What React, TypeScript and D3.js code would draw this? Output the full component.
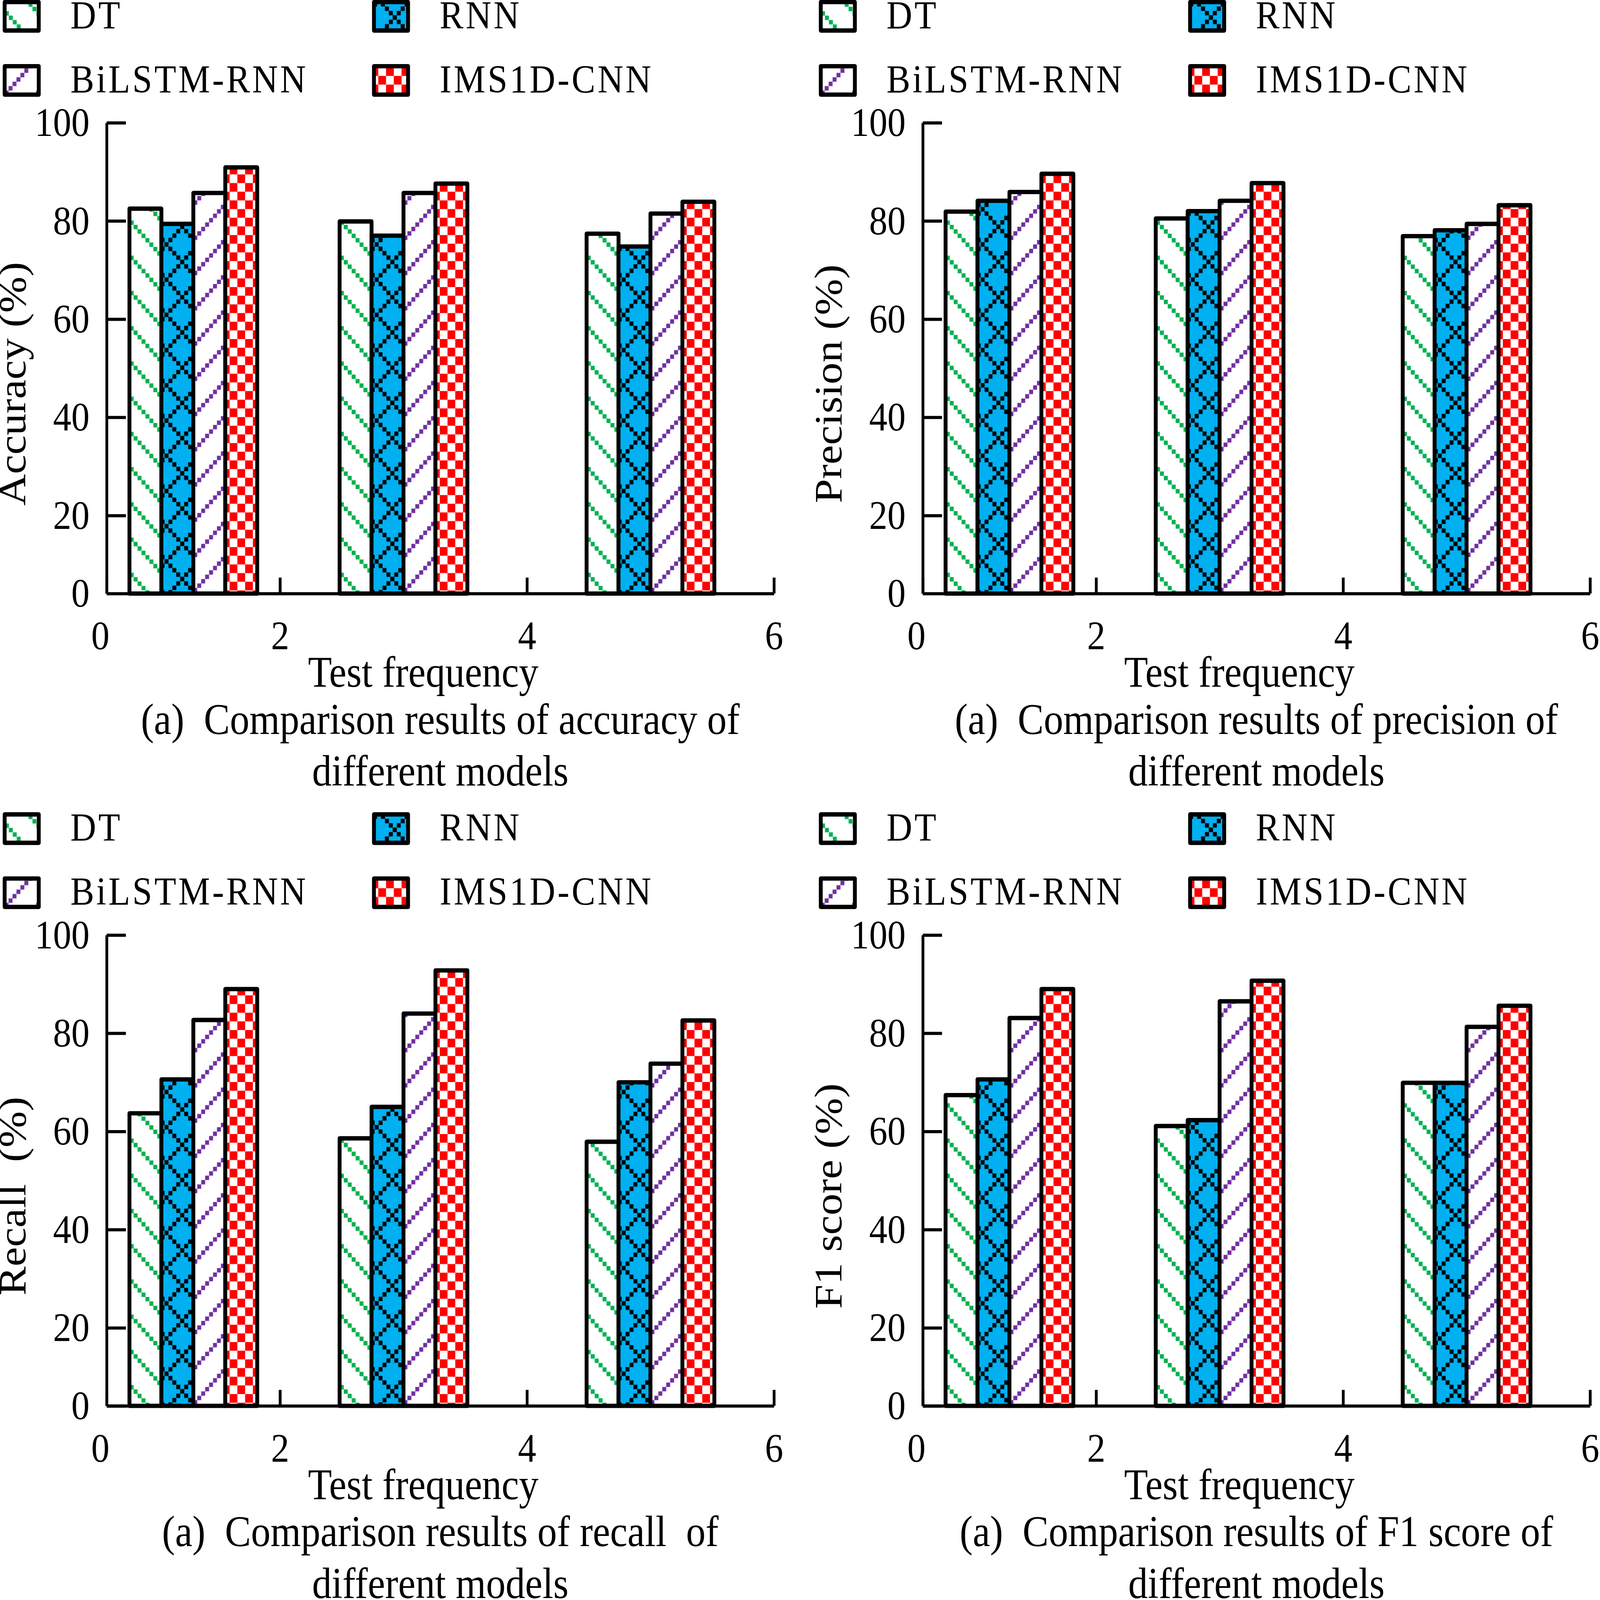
import { useEffect, useRef } from "react";
import * as d3 from "d3";

const WIDTH = 5160;
const HEIGHT = 4615;
const FONT = '"Liberation Serif", "Times New Roman", serif';

// categories / ticks
const testFrequency = [1, 3, 5];
const models = ["DT", "RNN", "BiLSTM-RNN", "IMS1D-CNN"];
const xTicks = [0, 2, 4, 6];
const yTicks = [0, 20, 40, 60, 80, 100];

// accuracy (%) per model, one value per test frequency
const accuracyDT = [82.5, 79.9, 77.4];
const accuracyRNN = [79.4, 77.0, 74.8];
const accuracyBiLSTM = [85.7, 85.7, 81.5];
const accuracyIMS = [90.9, 87.6, 83.9];

// precision (%)
const precisionDT = [81.9, 80.5, 76.9];
const precisionRNN = [84.1, 82.0, 78.1];
const precisionBiLSTM = [85.9, 84.1, 79.4];
const precisionIMS = [89.6, 87.7, 83.2];

// recall (%)
const recallDT = [63.7, 58.6, 57.9];
const recallRNN = [70.6, 65.0, 70.0];
const recallBiLSTM = [82.7, 84.0, 73.8];
const recallIMS = [89.0, 92.8, 82.6];

// F1 score (%)
const f1DT = [67.4, 61.1, 69.9];
const f1RNN = [70.6, 62.3, 69.9];
const f1BiLSTM = [83.1, 86.5, 81.3];
const f1IMS = [89.0, 90.7, 85.6];

const PATTERNS = ["pat-dt", "pat-rnn", "pat-bi", "pat-ims"];

// panel geometry (the original axes squeeze the first segment, so the scales are piecewise)
const PANEL_DX = 2632;
const PANEL_DY = 2343;
const BAR_W = 103;
const STROKE = 12.5;

const xScale = d3.scaleLinear().domain([0, 2, 6]).range([344, 903, 2496]);
const yScale = d3.scaleLinear().domain([0, 20, 100]).range([1712, 1487, 354]);

type PanelProps = {
    dx: number;
    dy: number;
    values: number[][];
    yTitle: string;
    caption: string;
};

const Legend = () => (
    <g>
        {models.map((m, i) => {
            const col = i % 2;
            const row = Math.floor(i / 2);
            const bx = col ? 1206 : 15;
            const by = row ? 191 : 6;
            return (
                <g key={m}>
                    <g transform={`translate(${bx},${by})`}>
                        <rect
                            width={110}
                            height={82}
                            fill={`url(#${PATTERNS[i]})`}
                            stroke="#000"
                            strokeWidth={STROKE}
                            strokeLinejoin="round"
                        />
                    </g>
                    <text
                        x={bx + 212}
                        y={by + 76}
                        fontSize={115}
                        letterSpacing={7}
                        fontFamily={FONT}
                    >
                        {m}
                    </text>
                </g>
            );
        })}
    </g>
);

const Panel = ({ dx, dy, values, yTitle, caption }: PanelProps) => {
    const xAxisRef = useRef<SVGGElement>(null);
    const yAxisRef = useRef<SVGGElement>(null);

    useEffect(() => {
        const gx = d3.select(xAxisRef.current);
        gx.selectAll("*").remove();
        gx.call(
            d3
                .axisBottom(xScale)
                .tickValues(xTicks)
                .tickSize(-46)
                .tickSizeOuter(0)
                .tickPadding(77)
                .tickFormat(d3.format("d"))
        );
        const gy = d3.select(yAxisRef.current);
        gy.selectAll("*").remove();
        gy.call(
            d3
                .axisLeft(yScale)
                .tickValues(yTicks)
                .tickSize(-62)
                .tickSizeOuter(0)
                .tickPadding(55)
                .tickFormat(d3.format("d"))
        );
        [gx, gy].forEach((g) => {
            g.attr("font-size", null).attr("font-family", null);
            g.select(".domain").attr("stroke", "#000").attr("stroke-width", 9);
            g.selectAll(".tick line").attr("stroke", "#000").attr("stroke-width", 9);
            g.selectAll("text")
                .attr("fill", "#000")
                .attr("font-size", 118)
                .attr("font-family", FONT);
        });
        // the "0" label of the x axis sits a little left of the origin
        gx.selectAll<SVGTextElement, number>(".tick text")
            .filter((d) => d === 0)
            .attr("dx", -21);
    }, []);

    const xMid = (xScale.range()[0] + xScale.range()[2]) / 2;

    return (
        <g transform={`translate(${dx},${dy})`}>
            <Legend />
            {values.map((series, i) =>
                series.map((v, g) => {
                    const x = xScale(testFrequency[g]) + (i - 2) * BAR_W;
                    return (
                        <g key={`${i}-${g}`} transform={`translate(${x},0)`}>
                            <rect
                                x={0}
                                y={yScale(v)}
                                width={BAR_W}
                                height={yScale(0) - yScale(v)}
                                fill={`url(#${PATTERNS[i]})`}
                                stroke="#000"
                                strokeWidth={STROKE}
                                strokeLinejoin="round"
                            />
                        </g>
                    );
                })
            )}
            <g ref={xAxisRef} transform={`translate(0,${yScale(0)})`} />
            <g ref={yAxisRef} transform={`translate(${xScale(0)},0)`} />
            <text
                transform={`translate(82,${(yScale(0) + yScale(100)) / 2 + 74}) rotate(-90)`}
                textAnchor="middle"
                fontSize={126}
                fontFamily={FONT}
                style={{ whiteSpace: "pre" }}
            >
                {yTitle}
            </text>
            <text x={xMid - 55} y={1981} textAnchor="middle" fontSize={126} fontFamily={FONT}>
                Test frequency
            </text>
            <text
                x={xMid}
                y={2117}
                textAnchor="middle"
                fontSize={126}
                fontFamily={FONT}
                style={{ whiteSpace: "pre" }}
            >
                {caption}
            </text>
            <text x={xMid} y={2266} textAnchor="middle" fontSize={126} fontFamily={FONT}>
                different models
            </text>
        </g>
    );
};

// hatch tiles: 8 x 8 grid of small squares, drawn like the pixel hatches of the original
const CELL = 12.7;
const GRID = d3.range(8);
const TILE = CELL * GRID.length;

const App = () => {
    return (
        <svg
            width="100vw"
            height="100vh"
            viewBox={`0 0 ${WIDTH} ${HEIGHT}`}
            preserveAspectRatio="none"
            style={{ position: "absolute", left: 0, top: 0, display: "block", background: "#fff" }}
        >
            <defs>
                <pattern id="pat-dt" width={TILE} height={TILE} patternUnits="userSpaceOnUse" x={13.5} y={39}>
                    <rect width={TILE} height={TILE} fill="#fff" />
                    {GRID.map((j) => (
                        <rect key={j} x={j * CELL} y={j * CELL} width={CELL} height={CELL} fill="#00B050" />
                    ))}
                </pattern>
                <pattern id="pat-bi" width={TILE} height={TILE} patternUnits="userSpaceOnUse" x={0} y={70}>
                    <rect width={TILE} height={TILE} fill="#fff" />
                    {GRID.map((j) => (
                        <rect
                            key={j}
                            x={j * CELL}
                            y={((GRID.length - j) % GRID.length) * CELL}
                            width={CELL}
                            height={CELL}
                            fill="#7030A0"
                        />
                    ))}
                </pattern>
                <pattern id="pat-rnn" width={TILE} height={TILE} patternUnits="userSpaceOnUse" x={10} y={89}>
                    <rect width={TILE} height={TILE} fill="#00B0F0" />
                    {GRID.map((j) => (
                        <g key={j}>
                            <rect x={j * CELL} y={j * CELL} width={CELL} height={CELL} fill="#000" />
                            <rect
                                x={j * CELL}
                                y={((GRID.length - j) % GRID.length) * CELL}
                                width={CELL}
                                height={CELL}
                                fill="#000"
                            />
                        </g>
                    ))}
                </pattern>
                <pattern id="pat-ims" width={50} height={50} patternUnits="userSpaceOnUse" x={14} y={28}>
                    <rect width={50} height={50} fill="#fff" />
                    <rect x={0} y={0} width={25} height={25} fill="#FF0000" />
                    <rect x={25} y={25} width={25} height={25} fill="#FF0000" />
                </pattern>
            </defs>
            <rect width={WIDTH} height={HEIGHT} fill="#fff" />
            <Panel
                dx={0}
                dy={0}
                values={[accuracyDT, accuracyRNN, accuracyBiLSTM, accuracyIMS]}
                yTitle="Accuracy (%)"
                caption="(a)  Comparison results of accuracy of"
            />
            <Panel
                dx={PANEL_DX}
                dy={0}
                values={[precisionDT, precisionRNN, precisionBiLSTM, precisionIMS]}
                yTitle="Precision (%)"
                caption="(a)  Comparison results of precision of"
            />
            <Panel
                dx={0}
                dy={PANEL_DY}
                values={[recallDT, recallRNN, recallBiLSTM, recallIMS]}
                yTitle="Recall  (%)"
                caption="(a)  Comparison results of recall  of"
            />
            <Panel
                dx={PANEL_DX}
                dy={PANEL_DY}
                values={[f1DT, f1RNN, f1BiLSTM, f1IMS]}
                yTitle="F1 score (%)"
                caption="(a)  Comparison results of F1 score of"
            />
        </svg>
    );
};

export default App;
